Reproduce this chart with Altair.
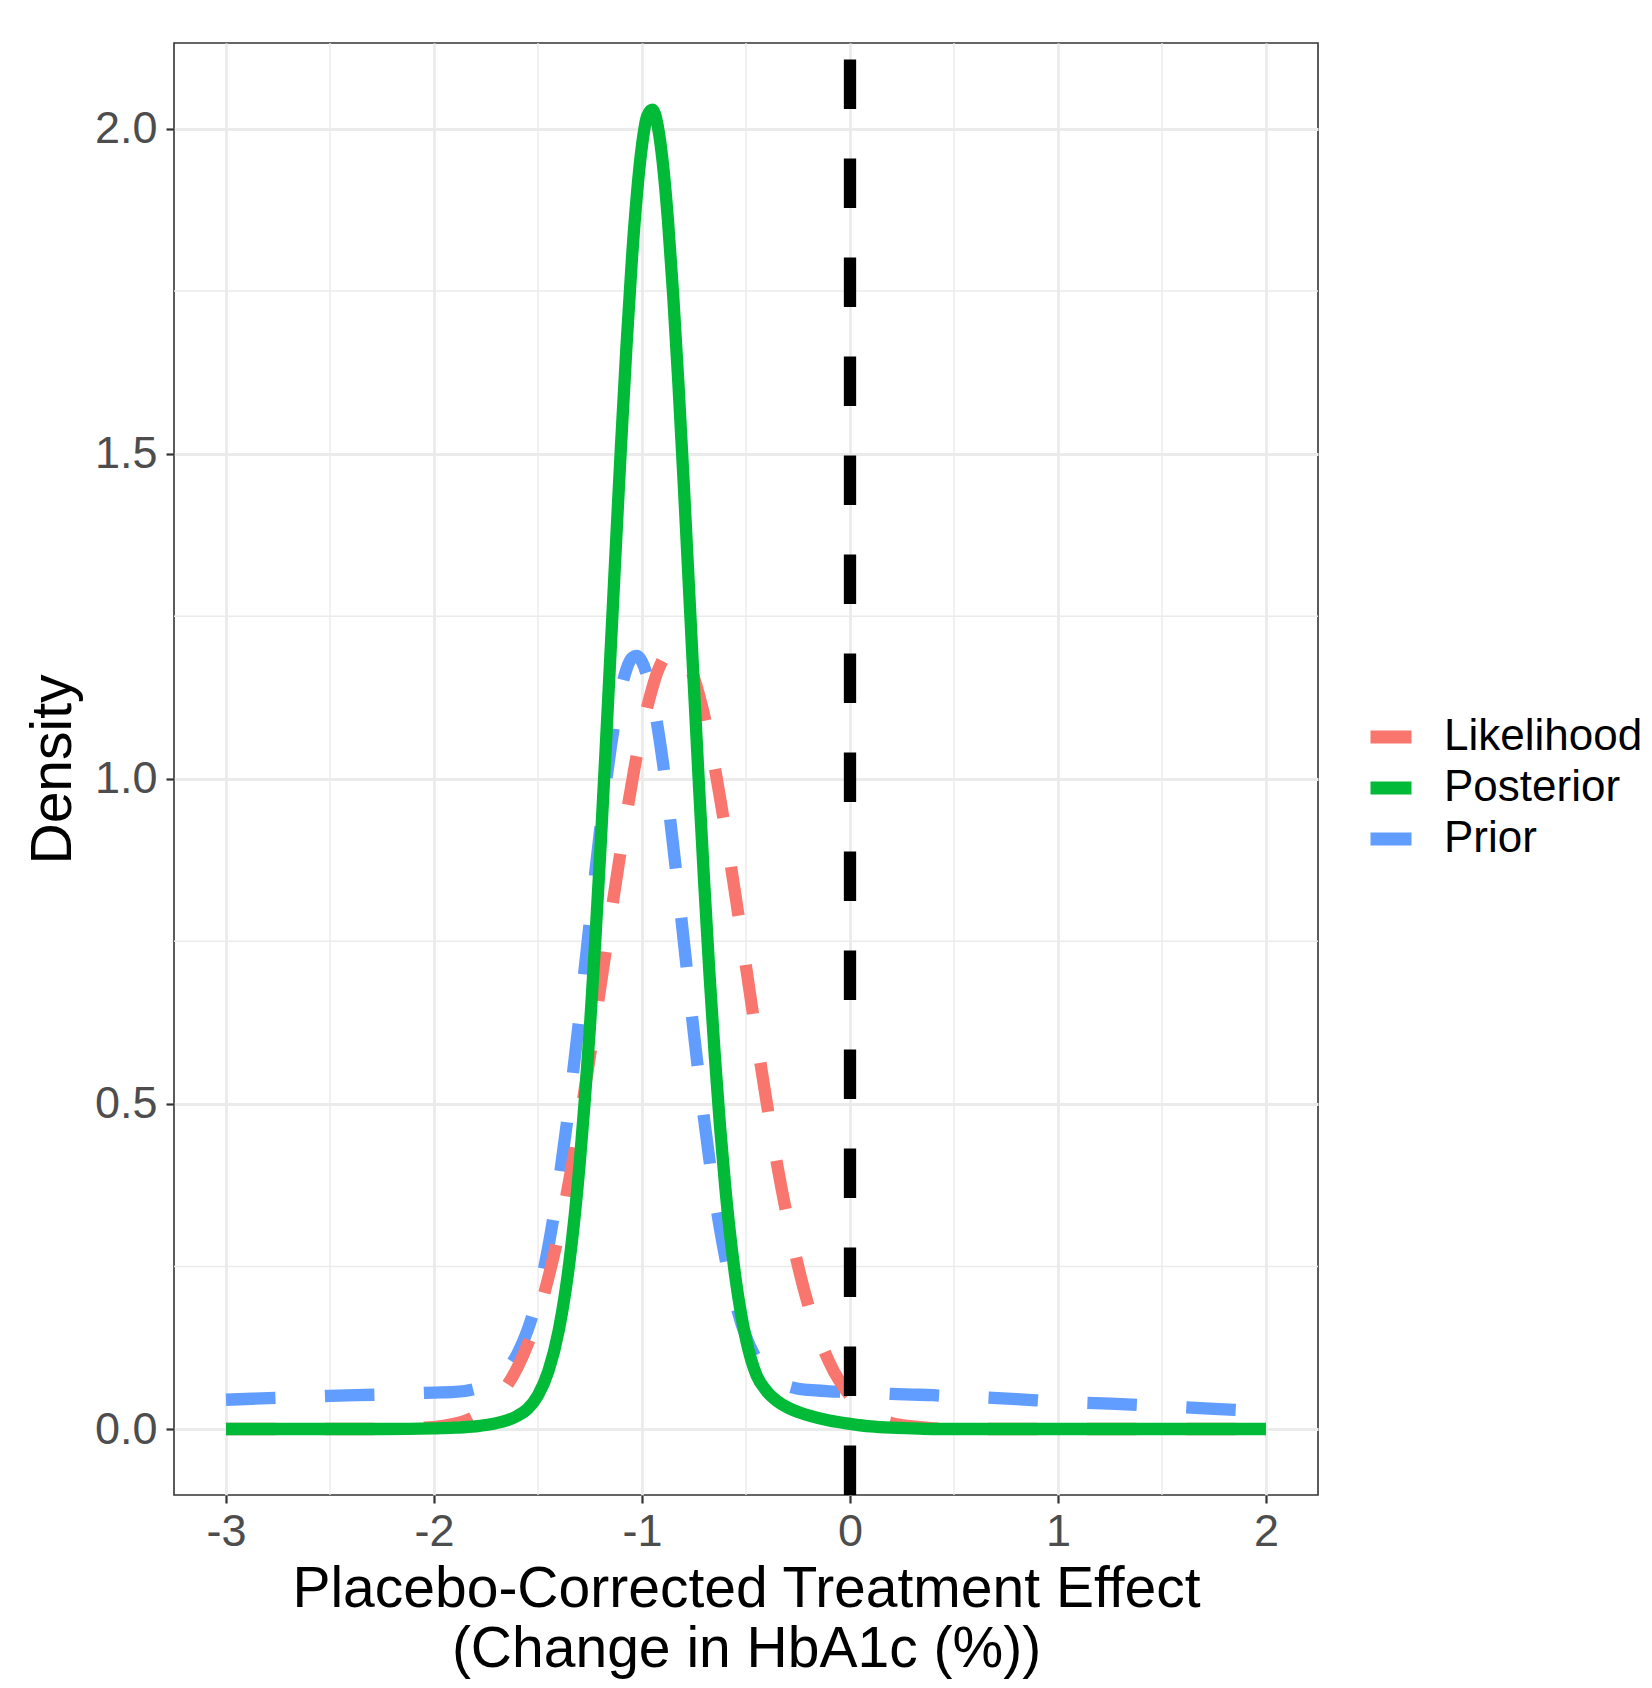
import altair as alt
import pandas as pd

# ---- data ----
x_vals = [-3.0, -2.75, -2.5, -2.25, -2.0, -1.9, -1.8, -1.7, -1.6, -1.55, -1.5, -1.45,
          -1.4, -1.35, -1.3, -1.275, -1.25, -1.225, -1.2, -1.175, -1.15, -1.125, -1.1,
          -1.075, -1.05, -1.025, -1.0, -0.975, -0.95, -0.925, -0.9, -0.875, -0.85,
          -0.825, -0.8, -0.775, -0.75, -0.725, -0.7, -0.675, -0.65, -0.625, -0.6,
          -0.55, -0.5, -0.45, -0.4, -0.35, -0.3, -0.25, -0.2, -0.1, 0.0, 0.1, 0.2,
          0.3, 0.4, 0.5, 0.6, 0.8, 1.0, 1.25, 1.5, 1.75, 2.0]

prior = [0.045, 0.048, 0.051, 0.053, 0.056, 0.057, 0.062, 0.076, 0.115, 0.152, 0.206, 0.281,
         0.379, 0.499, 0.636, 0.709, 0.783, 0.855, 0.925, 0.990, 1.049, 1.099, 1.139,
         1.168, 1.185, 1.189, 1.180, 1.158, 1.124, 1.080, 1.026, 0.965, 0.897,
         0.826, 0.753, 0.679, 0.607, 0.538, 0.473, 0.412, 0.357, 0.308, 0.264,
         0.193, 0.142, 0.108, 0.086, 0.073, 0.066, 0.062, 0.060, 0.058, 0.057, 0.056, 0.054,
         0.053, 0.052, 0.050, 0.049, 0.046, 0.042, 0.039, 0.035, 0.031, 0.027]

likelihood = [0.0, 0.0, 0.0, 0.0, 0.003, 0.008, 0.020, 0.046, 0.094, 0.130, 0.175, 0.233,
              0.301, 0.382, 0.473, 0.523, 0.574, 0.627, 0.680, 0.734, 0.789, 0.842, 0.894,
              0.944, 0.991, 1.036, 1.075, 1.110, 1.140, 1.165, 1.183, 1.195, 1.200,
              1.198, 1.190, 1.176, 1.155, 1.128, 1.096, 1.058, 1.017, 0.971, 0.922,
              0.819, 0.711, 0.603, 0.501, 0.406, 0.323, 0.251, 0.190, 0.103, 0.051, 0.023, 0.009,
              0.004, 0.001, 0.0, 0.0, 0.0, 0.0, 0.0, 0.0, 0.0, 0.0]

posterior = [0.0, 0.0, 0.0, 0.0, 0.001, 0.002, 0.004, 0.009, 0.020, 0.031, 0.052, 0.089,
             0.152, 0.254, 0.407, 0.506, 0.620, 0.749, 0.891, 1.044, 1.202, 1.362, 1.518,
             1.663, 1.792, 1.897, 1.974, 2.019, 2.029, 2.005, 1.947, 1.858, 1.743,
             1.608, 1.458, 1.299, 1.139, 0.983, 0.834, 0.697, 0.574, 0.466, 0.373,
             0.231, 0.138, 0.083, 0.058, 0.043, 0.033, 0.026, 0.021, 0.013, 0.008, 0.004, 0.002,
             0.001, 0.0, 0.0, 0.0, 0.0, 0.0, 0.0, 0.0, 0.0, 0.0]

series_names = ["Likelihood", "Posterior", "Prior"]
series_colors = ["#F8766D", "#00BA38", "#619CFF"]
x_ticks = [-3, -2, -1, 0, 1, 2]
y_ticks = [0, 0.5, 1.0, 1.5, 2.0]
x_minor = [-2.5, -1.5, -0.5, 0.5, 1.5]
y_minor = [0.25, 0.75, 1.25, 1.75]
vline_x = [0]

rows = []
for name, ys in zip(series_names, [likelihood, posterior, prior]):
    for xv, yv in zip(x_vals, ys):
        rows.append({"x": xv, "y": yv, "series": name})
df = pd.DataFrame(rows)

W, H = 1144, 1452
FONT = "Liberation Sans"

xscale = alt.Scale(domain=[-3.25, 2.25], nice=False, zero=False)
yscale = alt.Scale(domain=[-0.1015, 2.1315], nice=False, zero=False)

x_axis = alt.Axis(values=x_ticks, labelExpr="'' + datum.value", labelPadding=6,
                  labelFlush=False,
                  title=["Placebo-Corrected Treatment Effect", "(Change in HbA1c (%))"],
                  titleBaseline="alphabetic", titleX=W / 2, titleY=111, titleLineHeight=60,
                  titleAlign="center")
y_axis = alt.Axis(values=y_ticks, format=".1f", labelPadding=9, title="Density",
                  titleAngle=270, titleBaseline="alphabetic", titleX=-104, titleY=H / 2,
                  titleAlign="center")

legend = alt.Legend(title=None, orient="none", legendX=1190, legendY=672,
                    labelFontSize=44, labelFont=FONT, labelColor="black", labelLimit=0,
                    symbolType="stroke", symbolSize=1681, symbolStrokeWidth=13,
                    labelOffset=26, clipHeight=44, rowPadding=7, padding=0)
color = alt.Color("series:N", scale=alt.Scale(domain=series_names, range=series_colors),
                  legend=legend)

minor_v = alt.Chart(pd.DataFrame({"v": x_minor})).mark_rule(
    color="#ebebeb", strokeWidth=1.4).encode(
    x=alt.X("v:Q", scale=xscale, axis=x_axis))
minor_h = alt.Chart(pd.DataFrame({"v": y_minor})).mark_rule(
    color="#ebebeb", strokeWidth=1.4).encode(
    y=alt.Y("v:Q", scale=yscale, axis=y_axis))


def curve(name, dashed):
    kw = dict(strokeWidth=12.3, strokeCap="butt", strokeJoin="round", interpolate="monotone")
    if dashed:
        kw["strokeDash"] = [49.5, 49.5]
    return alt.Chart(df).transform_filter(alt.datum.series == name).mark_line(**kw).encode(
        x=alt.X("x:Q", scale=xscale, axis=x_axis),
        y=alt.Y("y:Q", scale=yscale, axis=y_axis),
        color=color,
    )


vline = alt.Chart(pd.DataFrame({"v": vline_x})).mark_rule(
    color="black", strokeWidth=12.3, strokeDash=[49.5, 49.5], strokeCap="butt").encode(
    x=alt.X("v:Q", scale=xscale, axis=x_axis),
    y=alt.value(H), y2=alt.value(0))

chart = alt.layer(
    minor_v, minor_h,
    curve("Prior", True),
    curve("Likelihood", True),
    curve("Posterior", False),
    vline,
).properties(
    width=W, height=H,
    padding={"left": 166, "top": 35, "right": 326, "bottom": 192},
    autosize=alt.AutoSizeParams(type="none"),
    background="white",
).configure_view(
    stroke="#333333", strokeWidth=1.6
).configure_axis(
    grid=True, gridColor="#ebebeb", gridWidth=2.8,
    tickColor="#333333", tickWidth=2.2, tickSize=8, domain=False,
    labelFont=FONT, labelFontSize=45, labelColor="#4d4d4d",
    titleFont=FONT, titleFontSize=57, titleColor="black", titleFontWeight="normal",
)

chart.save("out.html", embed_options={"renderer": "svg", "actions": False})
